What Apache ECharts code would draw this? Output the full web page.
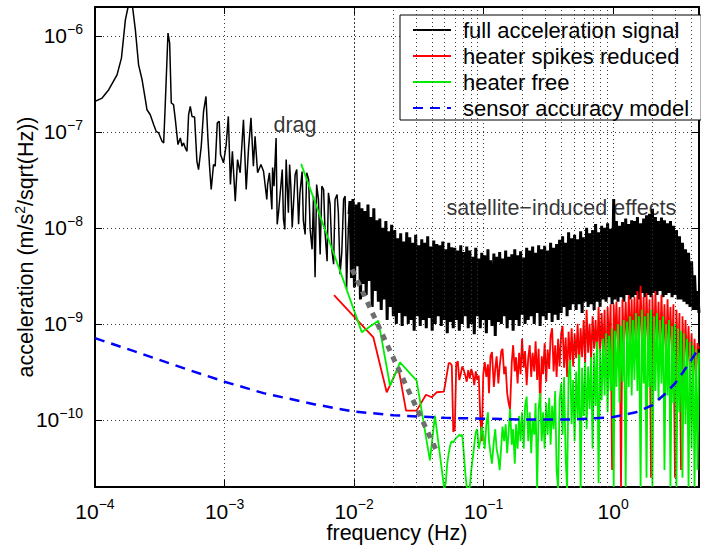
<!DOCTYPE html>
<html><head><meta charset="utf-8">
<script src="https://cdn.jsdelivr.net/npm/echarts@6/dist/echarts.min.js"></script>
<style>html,body{margin:0;padding:0;background:#fff}#c{width:701px;height:546px}</style>
</head><body><div id="c"></div>
<script>
// all acceleration values below are in units of 1e-10 m/s^2/sqrt(Hz)
const U = 1e-10;
const seriesNames = ['full acceleration signal', 'heater spikes reduced', 'heater free', 'sensor accuracy model'];

// full signal, low-frequency part (Hz / value)
const blackLowF = [1.0e-4,1.135e-4,1.277e-4,1.479e-4,1.60e-4,1.716e-4,1.80e-4,1.875e-4,1.95e-4,2.05e-4,2.17e-4,2.31e-4,2.45e-4,2.52e-4,2.67e-4,2.84e-4,2.97e-4,3.10e-4,3.29e-4,3.39e-4,3.49e-4,3.66e-4,3.77e-4,3.88e-4,4.04e-4,4.17e-4,4.37e-4,4.56e-4,4.70e-4,4.83e-4,4.98e-4,5.13e-4,5.28e-4,5.44e-4,5.61e-4,5.87e-4,6.12e-4,6.30e-4,6.61e-4,6.89e-4,7.19e-4,7.45e-4,7.66e-4,7.89e-4,8.22e-4,8.47e-4,8.79e-4,9.10e-4,9.31e-4,9.82e-4,1.03e-3,1.07e-3,1.11e-3,1.15e-3,1.21e-3,1.26e-3,1.32e-3,1.40e-3,1.47e-3,1.53e-3,1.60e-3,1.67e-3,1.72e-3,1.80e-3,1.91e-3,
2.00e-3,2.12e-3,2.15e-3,2.22e-3,2.32e-3,2.35e-3,2.41e-3,2.50e-3,2.55e-3,2.61e-3,2.72e-3,2.79e-3,2.85e-3,2.92e-3,2.99e-3,3.11e-3,3.18e-3,3.25e-3,3.33e-3,3.40e-3,3.51e-3,3.61e-3,3.73e-3,3.82e-3,3.97e-3,4.06e-3,4.19e-3,4.31e-3,4.46e-3,4.58e-3,4.74e-3,4.86e-3,5.0e-3,5.14e-3,5.31e-3,5.47e-3,5.64e-3,5.82e-3,5.97e-3,6.19e-3,6.34e-3,6.53e-3,6.73e-3,6.95e-3,7.13e-3,7.39e-3,7.56e-3,7.80e-3,8.04e-3,8.30e-3,8.53e-3,8.75e-3,9.04e-3,9.15e-3];
const blackLowV = [2080,2250,2750,3930,5870,14700,20000,30000,20000,11500,5000,3490,2160,1700,1510,1190,1010,975,798,768,2000,10700,8400,2000,1920,1340,738,865,708,768,681,628,1510,1840,1450,1430,494,405,708,1640,2340,830,439,251,457,439,1240,1290,580,476,738,1450,283,628,190,515,375,1340,251,654,1400,439,900,375,457,
389,198,283,375,156,425,272,865,109,144,272,405,123,96.5,515,144,457,272,101,169,360,405,109,232,387,118,85.6,375,319,96.5,59.8,214,30.6,283,198,53,272,251,89.8,44.9,232,175,59.8,41.8,198,223,145,32.9,55.6,198,214,23,104,138];

// common frequency samples (Hz) of the dense high-frequency part
const fGrid = [0.0093,0.00955,0.0098,0.01007,0.01034,0.01062,0.0109,0.0112,0.0115,0.0118,
0.0121,0.0124,0.0128,0.0131,0.0135,0.0138,0.0142,0.0146,0.0150,0.0154,
0.0158,0.0162,0.0167,0.0171,0.0176,0.0180,0.0185,0.0190,0.0195,0.0201,
0.0206,0.0212,0.0217,0.0223,0.0229,0.0235,0.0242,0.0248,0.0255,0.0262,
0.0269,0.0276,0.0284,0.0291,0.0299,0.0307,0.0316,0.0324,0.0333,0.0342,
0.0351,0.0361,0.0370,0.0380,0.0391,0.0401,0.0412,0.0423,0.0435,0.0447,
0.0459,0.0471,0.0484,0.0497,0.0510,0.0524,0.0538,0.0553,0.0568,0.0583,
0.0599,0.0615,0.0632,0.0649,0.0666,0.0684,0.0703,0.0722,0.0741,0.0761,
0.0782,0.0803,0.0825,0.0847,0.0870,0.0893,0.0917,0.0942,0.0968,0.0994,
0.102,0.105,0.108,0.110,0.113,0.116,0.120,0.123,0.126,0.130,
0.133,0.137,0.140,0.144,0.148,0.152,0.156,0.160,0.165,0.169,
0.174,0.178,0.183,0.188,0.193,0.198,0.204,0.209,0.215,0.221,
0.227,0.233,0.239,0.246,0.252,0.259,0.266,0.273,0.281,0.288,
0.296,0.304,0.312,0.321,0.329,0.338,0.347,0.357,0.366,0.376,
0.386,0.397,0.407,0.418,0.430,0.441,0.453,0.466,0.478,0.491,
0.504,0.518,0.532,0.546,0.561,0.576,0.592,0.608,0.624,0.641,
0.658,0.676,0.694,0.713,0.732,0.752,0.772,0.793,0.815,0.837,
0.859,0.882,0.906,0.931,0.956,0.981,1.01,1.03,1.06,1.09,
1.12,1.15,1.18,1.21,1.25,1.28,1.32,1.35,1.39,1.42,
1.46,1.50,1.54,1.58,1.63,1.67,1.72,1.76,1.81,1.86,
1.91,1.96,2.01,2.07,2.12,2.18,2.24,2.30,2.36,2.43,
2.49,2.56,2.63,2.70,2.77,2.85,2.92,3.00,3.08,3.17,
3.25,3.34,3.43,3.52,3.62,3.72,3.82,3.92,4.03,4.14,
4.25,4.36,4.48,4.60];

// full signal on fGrid
const blackDense = [190,30,200,24,175,40,185,18,160,26,
150,20,175,28,130,15,160,22,120,17,
125,14,100,18,118,11,92,15,108,12,
95,10,78,13,88,9.5,72,12,90,10,
80,11,70,8.5,85,12,66,9.5,76,11,
70,9,82,11.5,64,8.5,74,10,68,12,
66,9.5,72,11,60,8,70,10.5,63,9,
62,11,58,8.5,66,10,56,12,64,9,
58,10,50,7.8,62,12,48,9,55,11,
52,8,60,11,46,9.5,54,7.5,50,10.5,
56,10,48,12,58,9,50,11,53,8.5,
60,11,52,9.5,57,12.5,49,10,62,11,
58,12,64,10,55,13,66,9.5,60,12,
65,11,58,13,70,10.5,62,12.5,68,11,
75,13,82,15,70,12,90,14,78,16,
85,14,76,16,92,13,80,17,100,15,
88,16,95,14,110,17,90,15,105,18,
100,17,112,19,98,16,200,18,118,17,
105,19,115,17,125,20,110,18,120,19,
118,20,130,18,112,21,125,19,135,20,
140,19,158,21,130,20,118,22,128,19,
120,20,112,21,118,19,105,20,95,18,
82,18,70,17,60,16,55,15,45,14,
32,14,22,13];

// heater spikes reduced
const redLowF = [0.0070,0.01409,0.01786,0.02197,0.02518,0.0304,0.0359,0.0397,0.0434,0.0494];
const redLowV = [19.9,7.23,1.94,3.53,1.25,1.25,1.83,1.72,1.94,1.97];
const redDenseStart = 66; // index in fGrid
const redDense = [3.9,3.9,3.7,0.75,
0.8,3.8,4.1,2.6,3.0,3.6,3.3,2.9,2.5,3.3,
2.7,3.4,3.0,2.3,3.2,2.6,2.9,1.1,0.6,3.0,
4.0,2.8,3.8,1.9,4.6,5.1,2.2,3.4,4.6,2.4,
3.6,5.2,5.5,3.0,3.6,1.9,1.5,1.3,4.0,6.0,
3.2,4.5,2.4,5.0,3.0,7.0,3.5,5.2,2.3,4.4,
6.0,2.8,5.0,3.2,6.6,2.6,5.5,1.4,4.6,3.0,
6.3,2.5,5.4,3.4,7.5,9.0,3.2,6.0,2.8,7.0,
3.6,8.0,9.5,3.5,7.2,2.8,8.3,4.0,9.0,3.6,
8.0,4.4,10,3.8,9.0,4.5,11,4.0,14,5,
10,4.2,12,5.5,11,4.5,15,5.0,13,4.8,
14,3.0,15,5.5,16,0.3,16,5.5,17,5,
15,0.2,18,6,17,5.5,20,6,18,5,
19,6.5,22,5.5,25,6,19,5,21,6,
18,0.25,20,5.5,22,6,17,5,20,5.5,
16,4.5,18,5.5,15,4.5,16,0.25,14,4,
13,0.3,12,3.8,11,3.5,9.5,3,8,2.5,
7,2.8,6.3,5.5];

// heater free
const greenLowF = [0.0039,0.00783,0.01146,0.01538,0.01896,0.02264,0.0304,0.0385,0.0421];
const greenLowV = [465,35,8.2,10.8,2.27,3.98,2.56,0.378,1.11];
const greenDenseStart = 63; // index in fGrid
const greenDense = [0.19,0.22,0.35,0.45,0.55,0.6,0.58,
0.62,0.65,0.67,0.7,0.68,0.7,0.45,0.28,0.2,0.19,
0.2,0.3,0.4,0.55,0.75,0.8,0.5,0.6,0.85,0.7,
0.5,0.9,1.2,0.6,0.45,0.35,0.6,0.8,0.5,0.4,
0.3,0.55,0.85,0.6,0.9,0.45,0.75,1.3,0.55,0.8,
0.35,0.9,0.5,1.1,0.6,1.2,0.5,1.4,1.75,0.6,
1.2,0.45,1.0,0.7,1.5,0.19,1.3,1.9,0.6,1.2,
0.5,1.5,0.7,1.7,0.55,1.4,0.8,2.0,0.3,0.19,
1.6,2.4,0.7,2.8,0.4,0.19,3.0,4.2,0.9,2.6,
0.6,3.2,1.0,4.8,0.19,3.5,1.1,4.0,0.8,3.6,
1.3,4.5,0.5,5.0,1.4,6.5,0.22,5.5,1.6,7.0,
1.8,8.0,1.2,7.5,2.0,9.0,0.2,8.5,2.2,10,
1.5,9.5,2.5,11,0.2,10.5,2.2,12,1.8,11,
2.6,13,2.0,12,0.2,14,2.4,12,0.25,13,
2.2,14,0.2,12,2.0,13,1.6,11,2.4,12,
0.3,10,1.8,11,0.2,9.5,1.5,10,0.2,9,
1.2,8.5,0.25,8,0.9,7,0.2,6.5,0.5,6,
0.2,5.5,0.3,5];

// sensor accuracy model
const modelF = [1e-4,2e-4,5e-4,1e-3,2e-3,5e-3,0.01,0.02,0.05,0.1,0.2,0.5,1,1.5,2,2.5,3,3.5,4,4.6];
const modelV = [7.1,5.2,3.4,2.5,1.9,1.45,1.22,1.12,1.05,1.03,1.01,1.01,1.07,1.2,1.42,1.85,2.4,3.2,4.2,5.6];

// gray guide line
const guideF = [0.00966,0.0445];
const guideV = [37,0.44];

// text annotations
const annotText = ['drag','satellite\u2212induced effects'];
const annotF = [0.0035,0.398];
const annotV = [1190,160];

// axis ranges and minor grid positions
const xMin = 1e-4, xMax = 4.6, yMin = 2e-11, yMax = 2e-6;
const minorX = [2e-4,3e-4,4e-4,5e-4,6e-4,7e-4,8e-4,9e-4,2e-3,3e-3,4e-3,5e-3,6e-3,7e-3,8e-3,9e-3,0.02,0.03,0.04,0.05,0.06,0.07,0.08,0.09,0.2,0.3,0.4,0.5,0.6,0.7,0.8,0.9,2,3,4];
const minorY = [3e-11,4e-11,5e-11,6e-11,7e-11,8e-11,9e-11,2e-10,3e-10,4e-10,5e-10,6e-10,7e-10,8e-10,9e-10,2e-9,3e-9,4e-9,5e-9,6e-9,7e-9,8e-9,9e-9,2e-8,3e-8,4e-8,5e-8,6e-8,7e-8,8e-8,9e-8,2e-7,3e-7,4e-7,5e-7,6e-7,7e-7,8e-7,9e-7];

const FF = 'Liberation Sans, Arial, Helvetica, sans-serif';
const toPairs = (fs, vs) => fs.map((f, i) => [f, vs[i] * U]);
const onGrid = (vs, start) => vs.map((v, i) => [fGrid[start + i], v * U]);

const blackLowData = toPairs(blackLowF, blackLowV);
const blackDenseData = [blackLowData[blackLowData.length - 1]].concat(onGrid(blackDense, 0));
const redData = toPairs(redLowF, redLowV).concat(onGrid(redDense, redDenseStart));
const greenData = toPairs(greenLowF, greenLowV).concat(onGrid(greenDense, greenDenseStart));
const modelData = toPairs(modelF, modelV);
const guideData = toPairs(guideF, guideV);

function powLabel(v) {
  const l = Math.log10(v), e = Math.round(l);
  if (Math.abs(l - e) > 1e-6) return '';
  return '{b|10}{s|' + (e < 0 ? '\u2212' + (-e) : String(e)) + '}';
}
const richTick = {
  b: {fontFamily: FF, fontSize: 21, lineHeight: 24, color: '#000'},
  s: {fontFamily: FF, fontSize: 14, height: 10, verticalAlign: 'top', color: '#000'}
};
const gridStyle = {color: '#3a3a3a', width: 1, type: [1, 3]};
const frameLine = {show: true, onZero: false, lineStyle: {color: '#000', width: 2}};
const tick = {show: true, inside: true, length: 7, lineStyle: {color: '#000', width: 1}};

const chart = echarts.init(document.getElementById('c'), null, {renderer: 'svg'});
chart.setOption({
  animation: false,
  backgroundColor: '#fff',
  grid: {left: 95, right: 2, top: 7, bottom: 59, containLabel: false, outerBoundsMode: 'none'},
  legend: {
    data: seriesNames, orient: 'vertical', left: 400, top: 15,
    padding: [4, 12, 1, 12], itemGap: 4, itemWidth: 38, itemHeight: 14,
    backgroundColor: '#fff', borderColor: '#000', borderWidth: 1, borderRadius: 0,
    selectedMode: false,
    itemStyle: {opacity: 0},
    textStyle: {fontFamily: FF, fontSize: 22, color: '#000', lineHeight: 21, padding: [0, 0, 0, 7]}
  },
  xAxis: [{
    type: 'log', logBase: 10, min: xMin, max: xMax, position: 'bottom',
    name: 'frequency (Hz)', nameLocation: 'middle', nameGap: 35, nameMoveOverlap: false,
    nameTextStyle: {fontFamily: FF, fontSize: 21.5, color: '#000'},
    axisLine: frameLine, axisTick: tick,
    axisLabel: {formatter: powLabel, margin: 12, fontSize: 21, fontFamily: FF, rich: richTick, color: '#000'},
    splitLine: {show: true, lineStyle: gridStyle}
  }, {
    type: 'log', logBase: 10, min: xMin, max: xMax, position: 'top',
    axisLine: frameLine, axisTick: tick, axisLabel: {show: false}, splitLine: {show: false}
  }],
  yAxis: [{
    type: 'log', logBase: 10, min: yMin, max: yMax, position: 'left',
    name: 'acceleration (m/s{sup|2}/sqrt(Hz))', nameLocation: 'middle', nameGap: 56, nameMoveOverlap: false,
    nameTextStyle: {fontFamily: FF, fontSize: 21.5, color: '#000', lineHeight: 26,
      rich: {sup: {fontFamily: FF, fontSize: 14, verticalAlign: 'top', color: '#000'}}},
    axisLine: frameLine, axisTick: tick,
    axisLabel: {formatter: powLabel, margin: 12, fontSize: 21, fontFamily: FF, rich: richTick, color: '#000'},
    splitLine: {show: true, lineStyle: gridStyle}
  }, {
    type: 'log', logBase: 10, min: yMin, max: yMax, position: 'right',
    axisLine: frameLine, axisTick: tick, axisLabel: {show: false}, splitLine: {show: false}
  }],
  series: [
    {type: 'line', name: '_grid', data: [], silent: true, z: 1, symbol: 'none',
     markLine: {silent: true, symbol: ['none', 'none'], label: {show: false}, lineStyle: gridStyle, animation: false,
       emphasis: {disabled: true},
       data: minorX.map(v => ({xAxis: v})).concat(minorY.map(v => ({yAxis: v})))}},
    {type: 'line', name: seriesNames[0], data: blackLowData, symbol: 'none', z: 2, silent: true,
     lineStyle: {color: '#000', width: 1.5}, itemStyle: {color: '#000'}, emphasis: {disabled: true}},
    {type: 'line', name: seriesNames[0], data: blackDenseData, symbol: 'none', z: 2, silent: true,
     lineStyle: {color: '#000', width: 3}, itemStyle: {color: '#000'}, emphasis: {disabled: true}},
    {type: 'line', name: seriesNames[1], data: redData, symbol: 'none', z: 3, silent: true,
     lineStyle: {color: '#ff0000', width: 1.8}, itemStyle: {color: '#ff0000'}, emphasis: {disabled: true}},
    {type: 'line', name: seriesNames[2], data: greenData, symbol: 'none', z: 4, silent: true,
     lineStyle: {color: '#00ee00', width: 1.8}, itemStyle: {color: '#00ee00'}, emphasis: {disabled: true}},
    {type: 'line', name: 'guide', data: guideData, symbol: 'none', z: 5, silent: true,
     lineStyle: {color: '#6e6e6e', width: 5, type: [6, 6]}, emphasis: {disabled: true}},
    {type: 'line', name: seriesNames[3], data: modelData, symbol: 'none', z: 6, silent: true,
     lineStyle: {color: '#0000ff', width: 2.5, type: [10, 7]}, itemStyle: {color: '#0000ff'}, emphasis: {disabled: true}},
    {type: 'scatter', name: 'labels', symbolSize: 0, z: 7, silent: true,
     data: annotText.map((t, i) => ({value: [annotF[i], annotV[i] * U], label: {formatter: t}})),
     label: {show: true, position: 'inside', fontFamily: FF, fontSize: 21.5, color: '#000', textBorderWidth: 0, textShadowBlur: 0}}
  ]
});
</script></body></html>
